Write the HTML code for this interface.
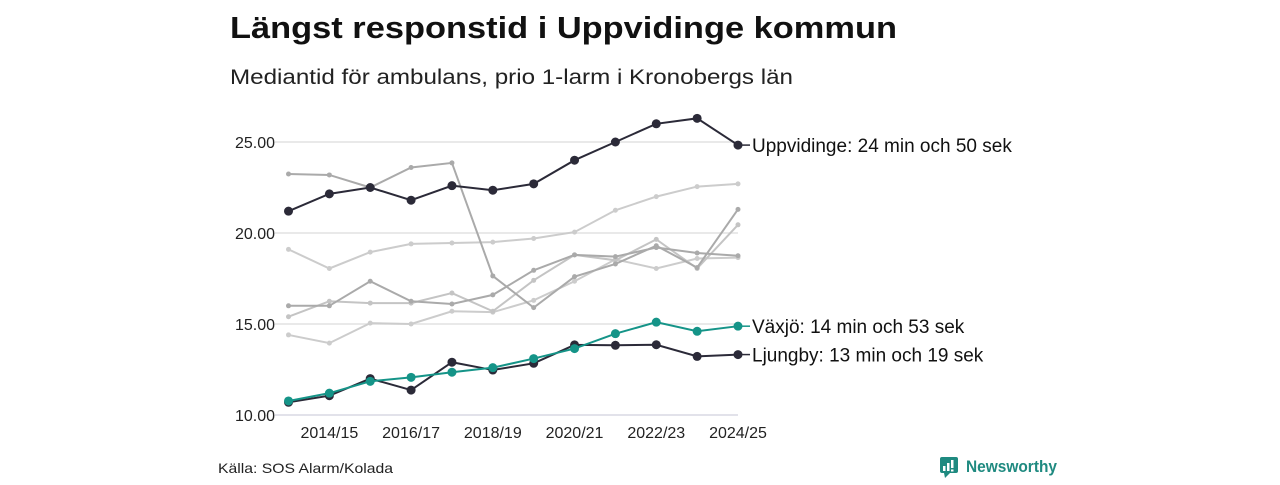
<!DOCTYPE html>
<html><head><meta charset="utf-8"><style>
body{margin:0;width:1280px;height:480px;background:#fff;overflow:hidden;font-family:"Liberation Sans","DejaVu Sans",sans-serif;}
</style></head><body>
<svg id="c" width="1280" height="480" xmlns="http://www.w3.org/2000/svg">
<text x="230" y="38" font-size="31" font-weight="bold" fill="#111" textLength="667" lengthAdjust="spacingAndGlyphs">Längst responstid i Uppvidinge kommun</text>
<text x="230" y="84" font-size="21" fill="#222" textLength="563" lengthAdjust="spacingAndGlyphs">Mediantid för ambulans, prio 1-larm i Kronobergs län</text>
<text x="218" y="473" font-size="14" fill="#222" textLength="175" lengthAdjust="spacingAndGlyphs">Källa: SOS Alarm/Kolada</text>
<g>
<rect x="940" y="457" width="18" height="16" rx="2" fill="#1f8a80"/>
<polygon points="944,473 950,473 945,478" fill="#1f8a80"/>
<rect x="943" y="466" width="2.5" height="5" fill="#fff"/><rect x="947" y="463" width="2.5" height="8" fill="#fff"/><rect x="951" y="460" width="2.5" height="8" fill="#fff"/><rect x="951" y="469.5" width="2.5" height="2" fill="#fff"/>
<text x="966" y="472" font-size="17" font-weight="bold" fill="#1f8a80" textLength="91" lengthAdjust="spacingAndGlyphs">Newsworthy</text>
</g>
<g id="grid"></g><g id="lines"></g>
</svg>
<script>
const categories=["2013/14","2014/15","2015/16","2016/17","2017/18","2018/19","2019/20","2020/21","2021/22","2022/23","2023/24","2024/25"];
const yTicks=[10,15,20,25];
const xTickLabels=["2014/15","2016/17","2018/19","2020/21","2022/23","2024/25"];
const grey1=[23.24,23.19,22.5,23.6,23.85,17.64,15.9,17.6,18.3,19.3,18.1,21.3];
const grey2=[19.1,18.05,18.95,19.4,19.45,19.5,19.7,20.05,21.25,22.0,22.55,22.7];
const grey3=[16.0,16.0,17.35,16.25,16.1,16.6,17.95,18.8,18.7,19.2,18.9,18.75];
const grey4=[15.4,16.25,16.15,16.15,16.7,15.7,17.4,18.8,18.5,19.65,18.05,20.45];
const grey5=[14.4,13.95,15.05,15.0,15.7,15.65,16.3,17.35,18.55,18.05,18.6,18.65];
const uppvidinge=[21.2,22.15,22.5,21.8,22.6,22.35,22.7,24.0,25.0,26.0,26.3,24.83];
const vaxjo=[10.77,11.2,11.85,12.07,12.35,12.6,13.1,13.65,14.47,15.1,14.6,14.88];
const ljungby=[10.7,11.06,12.0,11.37,12.9,12.47,12.84,13.85,13.83,13.86,13.22,13.32];
const NS="http://www.w3.org/2000/svg";
const x=i=>288.5+i*(738-288.5)/11;
const y=v=>415-(v-10)*(415-142)/15;
function mk(t,a,p){const e=document.createElementNS(NS,t);for(const k in a)e.setAttribute(k,a[k]);p.appendChild(e);return e;}
const G=document.getElementById('grid'),L=document.getElementById('lines');
yTicks.forEach(v=>{
 const l=mk('line',{x1:275,x2:738,y1:y(v),y2:y(v),stroke:v===10?'#d8d8e4':'#e2e2e2','stroke-width':1.5},G);
 
 
 const t=mk('text',{x:275,y:y(v)+6,'font-size':16,fill:'#222','text-anchor':'end'},G);
 t.textContent=v.toFixed(2);
 
 
});
xTickLabels.forEach(lab=>{
 const i=categories.indexOf(lab);
 const t=mk('text',{x:x(i),y:438,'font-size':16,fill:'#222','text-anchor':'middle'},G);
 t.textContent=lab;
 
 
});
function series(vals,color,r,w,name,label){
 const g=mk('g',{},L);
 
 
 mk('polyline',{points:vals.map((v,i)=>x(i)+','+y(v)).join(' '),fill:'none',stroke:color,'stroke-width':w},g);
 vals.forEach((v,i)=>{const c=mk('circle',{cx:x(i),cy:y(v),r:r,fill:color},g);
  
  });
 if(label){
  mk('line',{x1:x(11),x2:x(11)+12,y1:y(vals[11]),y2:y(vals[11]),stroke:color,'stroke-width':1.5},g);
  const t=mk('text',{x:x(11)+14,y:y(vals[11])+7,'font-size':19,fill:'#111'},g);
  t.textContent=label;
  
  
 }
}
series(grey2,'#cccccc',2.5,2,'series-grey-2');
series(grey5,'#cccccc',2.5,2,'series-grey-5');
series(grey4,'#c4c4c4',2.5,2,'series-grey-4');
series(grey3,'#aaaaaa',2.5,2,'series-grey-3');
series(grey1,'#aaaaaa',2.5,2,'series-grey-1');
series(ljungby,'#2b2a38',4.5,2,'series-ljungby','Ljungby: 13 min och 19 sek');
series(vaxjo,'#159488',4.5,2,'series-vaxjo','Växjö: 14 min och 53 sek');
series(uppvidinge,'#2b2a38',4.5,2,'series-uppvidinge','Uppvidinge: 24 min och 50 sek');
</script>
</body></html>
